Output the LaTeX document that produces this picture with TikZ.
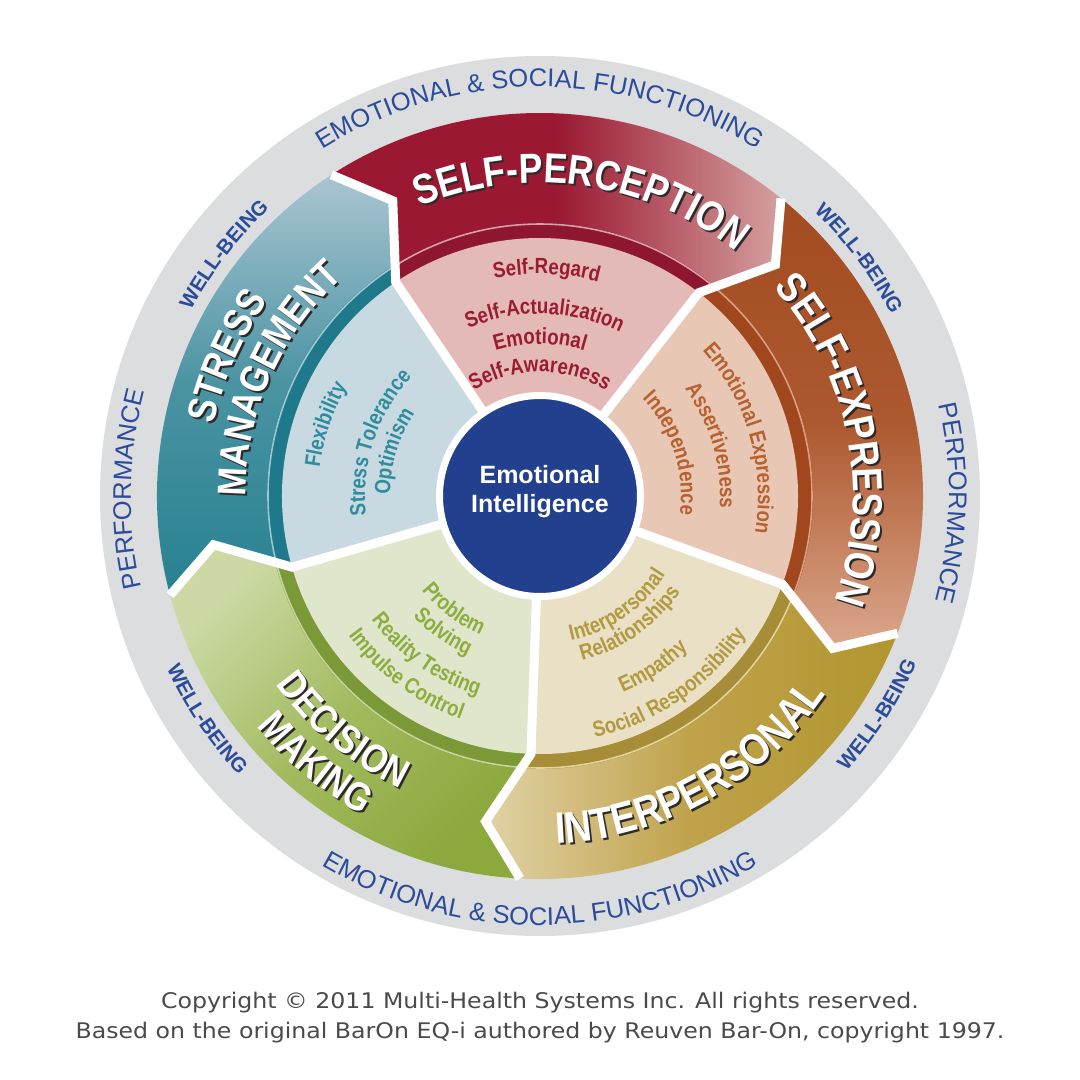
\documentclass[tikz,border=0pt]{standalone}
\usepackage{fontspec}
\usetikzlibrary{decorations.text}
\newfontfamily\condfont{Liberation Sans}[FakeStretch=0.85]
\newfontfamily\ringfont{Liberation Sans}
\newfontfamily\footfont{DejaVu Sans}[FakeStretch=1.1]

\definecolor{ringgray}{HTML}{DCDDDF}
\definecolor{ringblue}{HTML}{2B4C9B}
\definecolor{eiblue}{HTML}{22408E}
\definecolor{shadow}{HTML}{2E2A2A}
\definecolor{copygray}{HTML}{4A4A4A}
% self-perception
\definecolor{spdark}{HTML}{9A1832}
\definecolor{splight}{HTML}{D5A09F}
\definecolor{sparc}{HTML}{8E1630}
\definecolor{spline}{HTML}{D7A1A5}
\definecolor{spwedge}{HTML}{E3BAB7}
\definecolor{sptext}{HTML}{9B1B33}
% self-expression
\definecolor{sedark}{HTML}{A34B21}
\definecolor{semid}{HTML}{AD592F}
\definecolor{selight}{HTML}{DBA78C}
\definecolor{searc}{HTML}{A1471D}
\definecolor{seline}{HTML}{D9A184}
\definecolor{sewedge}{HTML}{E8C8B5}
\definecolor{setext}{HTML}{B6612F}
% interpersonal
\definecolor{iplight}{HTML}{E1D2A6}
\definecolor{ipmid}{HTML}{BFA24A}
\definecolor{ipdark}{HTML}{B1962F}
\definecolor{iparc}{HTML}{A78D37}
\definecolor{ipline}{HTML}{E3D39C}
\definecolor{ipwedge}{HTML}{E9E0C5}
\definecolor{iptext}{HTML}{B29A40}
% decision making
\definecolor{dmlight}{HTML}{CCD9A4}
\definecolor{dmmid}{HTML}{A2BA5E}
\definecolor{dmdark}{HTML}{8BA93D}
\definecolor{dmarc}{HTML}{7B9A37}
\definecolor{dmline}{HTML}{C4D49C}
\definecolor{dmwedge}{HTML}{DFE6CC}
\definecolor{dmtext}{HTML}{8DAD3E}
% stress management
\definecolor{smlight}{HTML}{A9C5D1}
\definecolor{smmid}{HTML}{4A93A3}
\definecolor{smdark}{HTML}{27818F}
\definecolor{smarc}{HTML}{1E7A8A}
\definecolor{smline}{HTML}{A0C7D0}
\definecolor{smwedge}{HTML}{C8D9E1}
\definecolor{smtext}{HTML}{2E8C9D}

% segment: right edge, left edge, band shading, arc, thin line, inner wedge
\newcommand{\segment}[6]{%
  \shade[#3] (#1:258pt) -- (#1-7.5:330pt) -- (#1-1:383pt) arc[start angle=#1-1, end angle=#2-1, radius=383pt]
    -- (#2-7.5:330pt) -- (#2:258pt) -- cycle;
  \fill[#4] (0,0) -- (#1-0.7:273pt) arc[start angle=#1-0.7, end angle=#2-0.7, radius=273pt] -- cycle;
  \draw[#5, line width=1.6pt] (#1-0.7:272pt) arc[start angle=#1-0.7, end angle=#2-0.7, radius=272pt];
  \fill[#6] (0,0) -- (#1:258pt) arc[start angle=#1, end angle=#2, radius=258pt] -- cycle;}
% text on an arc: baseline radius, centre angle, text
\newcommand{\cwtext}[3]{\path[decorate,decoration={text along path,text align=center,text={#3}}]
  (#2+80:#1pt) arc[start angle=#2+80, end angle=#2-80, radius=#1pt];}
\newcommand{\ccwtext}[3]{\path[decorate,decoration={text along path,text align=center,text={#3}}]
  (#2-80:#1pt) arc[start angle=#2-80, end angle=#2+80, radius=#1pt];}
\newcommand{\titlesize}[1]{\condfont\bfseries\fontsize{#1}{#1}\selectfont}
\newcommand{\itemsize}{\condfont\bfseries\fontsize{22}{22}\selectfont}
\newcommand{\ringsize}{\ringfont\fontsize{25.5}{25.5}\selectfont}
\newcommand{\wellsize}{\ringfont\bfseries\fontsize{20.5}{20.5}\selectfont}
\newcommand{\cwtitle}[4]{%
  \begin{scope}[xshift=2pt,yshift=-2pt]\cwtext{#1}{#2}{|\titlesize{#3}\color{shadow}|#4}\end{scope}
  \cwtext{#1}{#2}{|\titlesize{#3}\color{white}|#4}}
\newcommand{\ccwtitle}[4]{%
  \begin{scope}[xshift=2pt,yshift=-2pt]\ccwtext{#1}{#2}{|\titlesize{#3}\color{shadow}|#4}\end{scope}
  \ccwtext{#1}{#2}{|\titlesize{#3}\color{white}|#4}}

\begin{document}
\begin{tikzpicture}[x=1pt,y=1pt]
\tikzstyle{gapline} = [white,line width=9pt,line join=miter]
\tikzstyle{eicircle} = [circle,fill=eiblue,draw=white,line width=7pt,minimum size=201pt,inner sep=0pt]
\tikzstyle{eitext} = [anchor=base,text=white,font=\ringfont\bfseries\fontsize{25}{25}\selectfont]
\tikzstyle{copytext} = [anchor=base,text=copygray,font=\footfont\fontsize{21.5}{21.5}\selectfont]
\useasboundingbox (-540,-584) rectangle (540,496);
% Outer ring
\fill[ringgray] (0,0) circle[radius=440pt];
% Self-Perception
\segment{52}{124}{left color=spdark, right color=splight, middle color=spdark}{sparc}{spline}{spwedge}
% Self-Expression
\segment{-20}{52}{top color=sedark, bottom color=selight, middle color=semid}{searc}{seline}{sewedge}
% Interpersonal
\segment{-92}{-20}{left color=iplight, right color=ipdark, middle color=ipmid}{iparc}{ipline}{ipwedge}
% Decision Making
\segment{196}{268}{top color=dmlight, bottom color=dmdark, middle color=dmmid, shading angle=45}{dmarc}{dmline}{dmwedge}
% Stress Management
\segment{124}{196}{top color=smlight, bottom color=smdark, middle color=smmid}{smarc}{smline}{smwedge}
% Gaps
\draw[gapline] (52:95pt) -- (52:258pt) -- (44.5:330pt) -- (51:383pt);
\draw[gapline] (124:95pt) -- (124:258pt) -- (116.5:330pt) -- (123:383pt);
\draw[gapline] (196:95pt) -- (196:258pt) -- (188.5:330pt) -- (195:383pt);
\draw[gapline] (268:95pt) -- (268:258pt) -- (260.5:330pt) -- (267:383pt);
\draw[gapline] (340:95pt) -- (340:258pt) -- (332.5:330pt) -- (339:383pt);
% Centre
\node[eicircle] (ei) at (0,0) {};
\node[eitext] (eitop) at (0,13) {Emotional};
\node[eitext] (eibot) at (0,-16) {Intelligence};
% Titles
\cwtitle{313}{82}{42}{SELF-PERCEPTION}
\cwtitle{313}{11}{42}{SELF-EXPRESSION}
\cwtitle{334}{156}{40}{STRESS}
\cwtitle{294}{156}{40}{MANAGEMENT}
\ccwtitle{348}{299}{44}{INTERPERSONAL}
\ccwtitle{324}{230}{40}{DECISION}
\ccwtitle{365}{230}{40}{MAKING}
% Self-Perception items
\cwtext{222}{88.3}{|\itemsize\color{sptext}|Self-Regard}
\cwtext{182}{88.5}{|\itemsize\color{sptext}|Self-Actualization}
\cwtext{152}{90}{|\itemsize\color{sptext}|Emotional}
\cwtext{124}{90}{|\itemsize\color{sptext}|Self-Awareness}
% Self-Expression items
\cwtext{218}{16.1}{|\itemsize\color{setext}|Emotional Expression}
\cwtext{180}{16.3}{|\itemsize\color{setext}|Assertiveness}
\cwtext{141}{18}{|\itemsize\color{setext}|Independence}
% Stress Management items
\cwtext{222}{161.6}{|\itemsize\color{smtext}|Flexibility}
\cwtext{175}{161.7}{|\itemsize\color{smtext}|Stress Tolerance}
\cwtext{150}{163}{|\itemsize\color{smtext}|Optimism}
% Decision Making items
\ccwtext{151}{232.7}{|\itemsize\color{dmtext}|Problem}
\ccwtext{175}{234.5}{|\itemsize\color{dmtext}|Solving}
\ccwtext{209}{234.5}{|\itemsize\color{dmtext}|Reality Testing}
\ccwtext{237}{233.3}{|\itemsize\color{dmtext}|Impulse Control}
% Interpersonal items
\ccwtext{148}{305}{|\itemsize\color{iptext}|Interpersonal}
\ccwtext{170}{305}{|\itemsize\color{iptext}|Relationships}
\ccwtext{213}{303.5}{|\itemsize\color{iptext}|Empathy}
\ccwtext{248}{304.5}{|\itemsize\color{iptext}|Social Responsibility}
% Ring
\cwtext{409}{90}{|\ringsize\color{ringblue}|EMOTIONAL {\&} SOCIAL FUNCTIONING}
\ccwtext{429}{270}{|\ringsize\color{ringblue}|EMOTIONAL {\&} SOCIAL FUNCTIONING}
\cwtext{409}{179}{|\ringsize\color{ringblue}|PERFORMANCE}
\cwtext{409}{-1}{|\ringsize\color{ringblue}|PERFORMANCE}
\cwtext{395}{142.6}{|\wellsize\color{ringblue}|WELL-BEING}
\cwtext{395}{36.7}{|\wellsize\color{ringblue}|WELL-BEING}
\ccwtext{411}{213.8}{|\wellsize\color{ringblue}|WELL-BEING}
\ccwtext{412}{327.1}{|\wellsize\color{ringblue}|WELL-BEING}
% Footer
\node[copytext] (copy1) at (0,-512) {Copyright © 2011 Multi-Health Systems Inc. All rights reserved.};
\node[copytext] (copy2) at (0,-542) {Based on the original BarOn EQ-i authored by Reuven Bar-On, copyright 1997.};
\end{tikzpicture}
\end{document}
